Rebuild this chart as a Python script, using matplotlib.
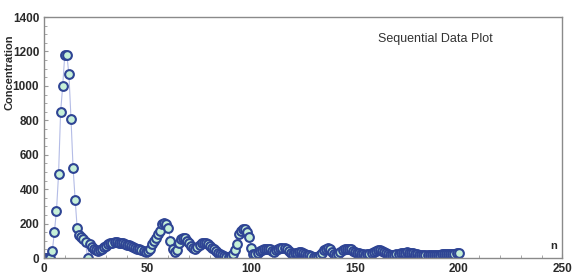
import matplotlib.pyplot as plt
from matplotlib.ticker import MultipleLocator

plt.rcParams['font.family'] = ['Liberation Sans', 'DejaVu Sans']

# sequential data, n = 0 .. 200
n = list(range(0, 201))
conc = [
    0, 0, 2, 0, 42, 153, 275, 488, 850, 1000,
    1180, 1180, 1067, 810, 525, 340, 172, 135, 120, 108,
    95, 0, 80, 65, 52, 45, 40, 45, 55, 65,
    72, 80, 86, 90, 92, 92, 90, 88, 85, 82,
    78, 74, 70, 65, 60, 55, 50, 47, 42, 35,
    40, 55, 80, 100, 115, 140, 160, 195, 205, 200,
    175, 100, 50, 38, 45, 85, 110, 118, 115, 100,
    85, 70, 60, 55, 62, 75, 85, 90, 88, 80,
    70, 60, 50, 40, 32, 25, 18, 12, 8, 8,
    12, 25, 45, 80, 140, 160, 170, 168, 150, 120,
    60, 25, 25, 30, 40, 48, 52, 55, 55, 50,
    42, 38, 45, 52, 58, 60, 58, 50, 40, 30,
    25, 28, 32, 35, 33, 30, 25, 20, 15, 10,
    8, 6, 5, 15, 30, 45, 55, 58, 50, 35,
    25, 20, 25, 35, 45, 52, 55, 55, 50, 42,
    35, 30, 28, 25, 22, 20, 22, 25, 30, 35,
    40, 44, 45, 42, 35, 28, 22, 20, 18, 20,
    22, 25, 28, 30, 32, 33, 32, 30, 28, 25,
    22, 20, 18, 17, 16, 15, 15, 16, 17, 18,
    20, 20, 21, 22, 23, 24, 25, 25, 26, 27,
    28,
]

fig = plt.figure(figsize=(5.72, 2.79), dpi=100)
ax = fig.add_axes([0.077, 0.075, 0.906, 0.864])

ax.plot(n, conc, color='#b4bce6', linewidth=0.8, zorder=1)
ax.plot(n, conc, linestyle='none', marker='o', markersize=6.3,
        markerfacecolor='#c6f0d8', markeredgecolor='#2e4494',
        markeredgewidth=1.5, zorder=2)

ax.set_xlim(0, 250)
ax.set_ylim(0, 1400)
ax.xaxis.set_major_locator(MultipleLocator(50))
ax.yaxis.set_major_locator(MultipleLocator(200))
ax.xaxis.set_minor_locator(MultipleLocator(10))
ax.yaxis.set_minor_locator(MultipleLocator(50))
ax.tick_params(which='both', direction='in', colors='#999999',
               labelcolor='#2a2a2a', labelsize=8.5)
ax.tick_params(which='major', length=3)
ax.tick_params(which='minor', length=2)
for lbl in ax.get_xticklabels() + ax.get_yticklabels():
    lbl.set_fontweight('bold')
for s in ax.spines.values():
    s.set_color('#8a8a8a')
    s.set_linewidth(1.0)

fig.text(0.016, 0.74, 'Concentration', rotation=90, fontsize=8,
         fontweight='bold', color='#2a2a2a', ha='center', va='center')
ax.text(0.99, 0.03, 'n', transform=ax.transAxes, fontsize=8,
        fontweight='bold', color='#2a2a2a', ha='right', va='bottom')
ax.text(0.755, 0.91, 'Sequential Data Plot', transform=ax.transAxes,
        fontsize=9, color='#333333', ha='center', va='center')

plt.savefig('out.png', dpi=100)
